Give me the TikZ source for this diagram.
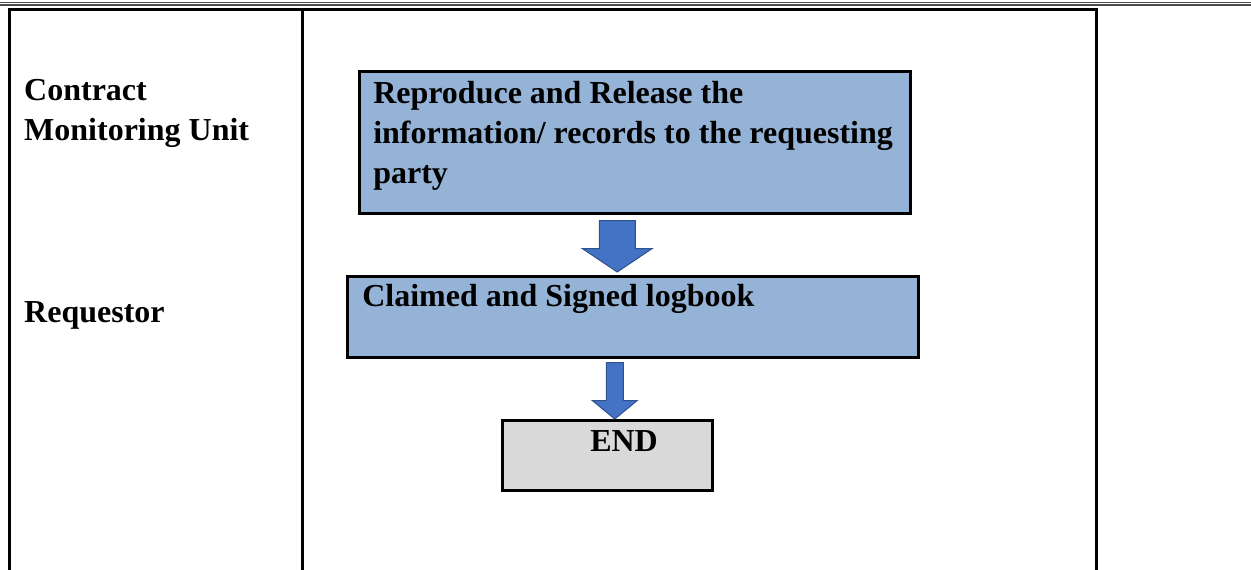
\documentclass[tikz,border=0pt]{standalone}
\usepackage{fontspec}
\setmainfont{Liberation Serif}
\usetikzlibrary{calc,positioning}
\definecolor{boxblue}{HTML}{95B3D7}
\definecolor{arrowblue}{HTML}{4472C4}
\definecolor{arrowedge}{HTML}{2F528F}
\definecolor{endgray}{HTML}{D9D9D9}

\begin{document}
\begin{tikzpicture}[x=1pt, y=-1pt,
    every node/.style={font=\fontsize{32}{40}\selectfont\bfseries},
    flowbox/.style={draw, line width=2.5pt, fill=boxblue, anchor=north west, inner ysep=0pt, align=flush left},
    blockarrow/.style={fill=arrowblue, draw=arrowedge, line width=1pt, line join=miter},
    lane/.style={anchor=base west, inner sep=0pt, text width=270pt, align=flush left}
]
\useasboundingbox (0,0) rectangle (1251,570);
% rule at the top of the page
\draw[black!70, line width=1.3pt] (0,2.7) -- (1251,2.7);
\draw[black!70, line width=1.3pt] (0,4.9) -- (1251,4.9);
% table
\draw[line width=3pt] (9,570) -- (9,9) -- (1096,9) -- (1096,570);
\draw[line width=3pt] (302,9) -- (302,570);
% lanes
\node[lane] (cmu) at (24,100) {Contract\\Monitoring Unit};
\node[lane] (req) at (24,322) {Requestor};
% steps
\node[flowbox, text width=523pt, inner xsep=14pt, text height=32pt, text depth=110pt] (repro) at (358,70)
    {Reproduce and Release the\\information/ records to the requesting\\party};
\node[flowbox, text width=541pt, inner xsep=15pt, text height=30pt, text depth=51pt] (claim) at (346,275)
    {Claimed and Signed logbook};
\node[flowbox, fill=endgray, text width=210pt, inner xsep=0pt, text height=31pt, text depth=39pt] (end) at (501,419)
    {\hspace*{88pt}END};
% block arrows
\coordinate (a1) at ($(repro.south)+(-17.5,6)$);
\draw[blockarrow] ($(a1)+(-18,0)$) -- ($(a1)+(18,0)$) -- ($(a1)+(18,28)$) -- ($(a1)+(35,28)$)
    -- ($(a1 |- claim.north)+(0,-3)$) -- ($(a1)+(-35,28)$) -- ($(a1)+(-18,28)$) -- cycle;
\coordinate (a2) at ($(claim.south)+(-18,4)$);
\draw[blockarrow] ($(a2)+(-8.5,0)$) -- ($(a2)+(8.5,0)$) -- ($(a2)+(8.5,38)$) -- ($(a2)+(22.5,38)$)
    -- (a2 |- end.north) -- ($(a2)+(-22.5,38)$) -- ($(a2)+(-8.5,38)$) -- cycle;
\end{tikzpicture}
\end{document}
